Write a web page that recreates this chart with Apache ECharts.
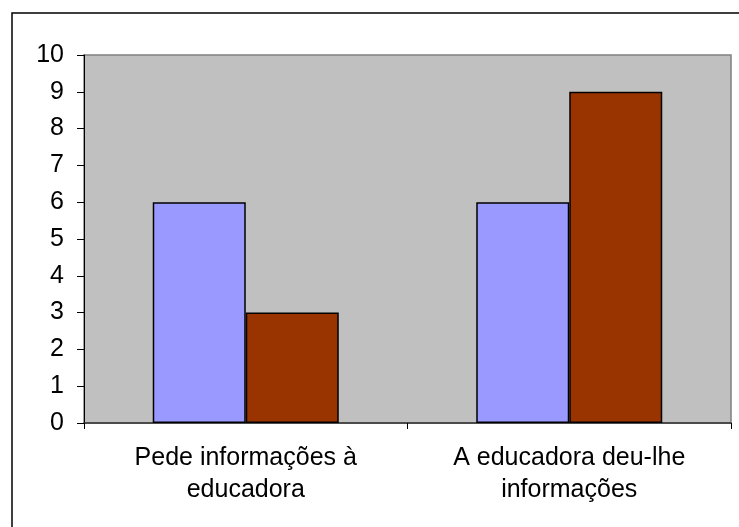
<!DOCTYPE html>
<html>
<head>
<meta charset="utf-8">
<script src="https://cdn.jsdelivr.net/npm/echarts@6/dist/echarts.min.js"></script>
<style>
  html, body { margin: 0; padding: 0; background: #fff; }
  #chart { width: 739px; height: 527px; }
</style>
</head>
<body>
<div id="chart"></div>
<script>
// Category labels (two lines each) and the two series of counts
const categories = ['Pede informações à\neducadora', 'A educadora deu-lhe\ninformações'];
const seriesA = [6, 6];
const seriesB = [3, 9];
const yTicks = { min: 0, max: 10, interval: 1 };

const FONT = '"Liberation Sans", Arial, sans-serif';

const chart = echarts.init(document.getElementById('chart'), null, { renderer: 'canvas' });

chart.setOption({
  animation: false,
  backgroundColor: '#ffffff',
  graphic: [{
    type: 'rect',
    silent: true,
    shape: { x: 12, y: 13, width: 760, height: 560 },
    style: { fill: 'none', stroke: '#000', lineWidth: 1.5 }
  }],
  grid: {
    left: 84, top: 55, right: 8, bottom: 104,
    show: true,
    backgroundColor: '#C0C0C0',
    borderColor: '#808080',
    borderWidth: 1.5
  },
  xAxis: {
    type: 'category',
    data: categories,
    axisLine: { show: true, lineStyle: { color: '#333', width: 1.5 } },
    axisTick: { show: true, length: 6, lineStyle: { color: '#000' } },
    axisLabel: {
      color: '#000', fontFamily: FONT, fontSize: 25,
      lineHeight: 32, margin: 19, interval: 0
    },
    splitLine: { show: false }
  },
  yAxis: {
    type: 'value',
    min: yTicks.min, max: yTicks.max, interval: yTicks.interval,
    axisLine: { show: true, lineStyle: { color: '#000', width: 1 } },
    axisTick: { show: true, length: 7, lineStyle: { color: '#000' } },
    axisLabel: { color: '#000', fontFamily: FONT, fontSize: 25, margin: 20 },
    splitLine: { show: false }
  },
  series: [
    {
      type: 'bar', data: seriesA,
      barGap: '0%', barCategoryGap: '42.5%',
      itemStyle: { color: '#9999FF', borderColor: '#000', borderWidth: 1.5 }
    },
    {
      type: 'bar', data: seriesB,
      barGap: '0%', barCategoryGap: '42.5%',
      itemStyle: { color: '#993300', borderColor: '#000', borderWidth: 1.5 }
    }
  ]
});
</script>
</body>
</html>
